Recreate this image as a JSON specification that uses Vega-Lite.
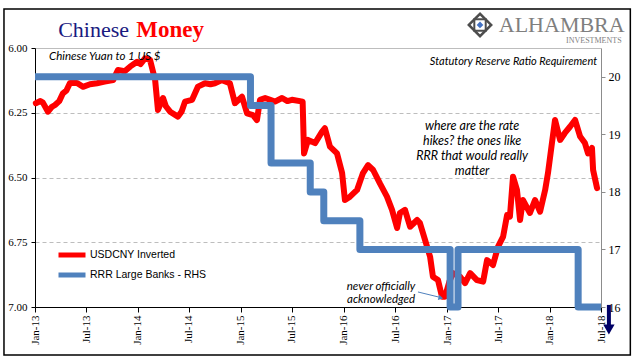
{
  "$schema": "https://vega.github.io/schema/vega-lite/v6.json",
  "width": 566,
  "height": 259,
  "autosize": {"type": "none"},
  "padding": {"left": 35, "top": 48, "right": 40, "bottom": 54},
  "background": "white",
  "config": {
    "view": {"stroke": null},
    "font": "Liberation Serif",
    "axis": {"labelFont": "Liberation Serif", "labelColor": "black", "labelFontSize": 11, "titleFontSize": 0}
  },
  "datasets": {
    "cny": [
      {"date": "2013-01-04", "v": 6.213}, {"date": "2013-01-20", "v": 6.205}, {"date": "2013-01-29", "v": 6.211}, {"date": "2013-02-16", "v": 6.246},
      {"date": "2013-03-01", "v": 6.228}, {"date": "2013-03-13", "v": 6.22}, {"date": "2013-03-28", "v": 6.205}, {"date": "2013-04-10", "v": 6.175},
      {"date": "2013-04-22", "v": 6.165}, {"date": "2013-05-05", "v": 6.135},
      {"date": "2013-05-30", "v": 6.135}, {"date": "2013-06-20", "v": 6.15}, {"date": "2013-07-15", "v": 6.14},
      {"date": "2013-08-09", "v": 6.136}, {"date": "2013-09-05", "v": 6.13}, {"date": "2013-10-05", "v": 6.124},
      {"date": "2013-10-22", "v": 6.085}, {"date": "2013-11-15", "v": 6.09}, {"date": "2013-12-04", "v": 6.072}, {"date": "2013-12-29", "v": 6.053},
      {"date": "2014-01-10", "v": 6.062}, {"date": "2014-01-26", "v": 6.04}, {"date": "2014-02-13", "v": 6.046}, {"date": "2014-03-03", "v": 6.124},
      {"date": "2014-03-13", "v": 6.239}, {"date": "2014-03-31", "v": 6.193}, {"date": "2014-04-10", "v": 6.225}, {"date": "2014-04-25", "v": 6.246},
      {"date": "2014-05-23", "v": 6.265}, {"date": "2014-06-05", "v": 6.245}, {"date": "2014-06-17", "v": 6.207}, {"date": "2014-07-12", "v": 6.2},
      {"date": "2014-08-02", "v": 6.149}, {"date": "2014-08-27", "v": 6.136}, {"date": "2014-09-15", "v": 6.14}, {"date": "2014-10-01", "v": 6.136},
      {"date": "2014-10-26", "v": 6.124}, {"date": "2014-11-23", "v": 6.136}, {"date": "2014-12-11", "v": 6.213},
      {"date": "2015-01-05", "v": 6.188}, {"date": "2015-01-23", "v": 6.252}, {"date": "2015-02-13", "v": 6.259},
      {"date": "2015-02-27", "v": 6.278}, {"date": "2015-03-10", "v": 6.2}, {"date": "2015-03-28", "v": 6.193},
      {"date": "2015-04-15", "v": 6.2}, {"date": "2015-05-02", "v": 6.207}, {"date": "2015-05-27", "v": 6.193}, {"date": "2015-06-15", "v": 6.205}, {"date": "2015-07-01", "v": 6.2},
      {"date": "2015-08-08", "v": 6.207}, {"date": "2015-08-13", "v": 6.407}, {"date": "2015-08-27", "v": 6.355},
      {"date": "2015-09-21", "v": 6.367}, {"date": "2015-10-16", "v": 6.323}, {"date": "2015-10-26", "v": 6.31},
      {"date": "2015-11-13", "v": 6.381}, {"date": "2015-12-08", "v": 6.407}, {"date": "2015-12-26", "v": 6.483},
      {"date": "2016-01-05", "v": 6.587}, {"date": "2016-01-23", "v": 6.574}, {"date": "2016-02-17", "v": 6.548},
      {"date": "2016-03-09", "v": 6.483}, {"date": "2016-03-27", "v": 6.452}, {"date": "2016-04-14", "v": 6.471},
      {"date": "2016-05-08", "v": 6.523}, {"date": "2016-06-02", "v": 6.574}, {"date": "2016-06-20", "v": 6.625},
      {"date": "2016-07-08", "v": 6.695}, {"date": "2016-07-18", "v": 6.637}, {"date": "2016-08-05", "v": 6.625},
      {"date": "2016-08-23", "v": 6.69}, {"date": "2016-09-17", "v": 6.664}, {"date": "2016-09-27", "v": 6.676},
      {"date": "2016-10-15", "v": 6.741}, {"date": "2016-11-02", "v": 6.806}, {"date": "2016-11-12", "v": 6.883},
      {"date": "2016-11-30", "v": 6.896}, {"date": "2016-12-14", "v": 6.96}, {"date": "2016-12-25", "v": 6.96},
      {"date": "2017-01-10", "v": 6.9}, {"date": "2017-01-22", "v": 6.869}, {"date": "2017-02-16", "v": 6.883},
      {"date": "2017-03-06", "v": 6.908}, {"date": "2017-03-24", "v": 6.869}, {"date": "2017-04-17", "v": 6.896},
      {"date": "2017-05-09", "v": 6.902}, {"date": "2017-05-23", "v": 6.819}, {"date": "2017-06-13", "v": 6.838},
      {"date": "2017-07-01", "v": 6.767}, {"date": "2017-07-19", "v": 6.728}, {"date": "2017-08-02", "v": 6.645},
      {"date": "2017-08-12", "v": 6.651}, {"date": "2017-08-23", "v": 6.497}, {"date": "2017-09-06", "v": 6.548},
      {"date": "2017-09-17", "v": 6.664}, {"date": "2017-09-27", "v": 6.587}, {"date": "2017-10-22", "v": 6.637},
      {"date": "2017-11-09", "v": 6.587}, {"date": "2017-11-27", "v": 6.632}, {"date": "2017-12-15", "v": 6.548},
      {"date": "2017-12-25", "v": 6.483}, {"date": "2018-01-08", "v": 6.367}, {"date": "2018-01-19", "v": 6.278},
      {"date": "2018-02-06", "v": 6.355}, {"date": "2018-02-23", "v": 6.328}, {"date": "2018-03-13", "v": 6.304},
      {"date": "2018-03-31", "v": 6.278}, {"date": "2018-04-18", "v": 6.342}, {"date": "2018-05-05", "v": 6.367},
      {"date": "2018-05-16", "v": 6.407}, {"date": "2018-05-30", "v": 6.386}, {"date": "2018-06-03", "v": 6.471},
      {"date": "2018-06-17", "v": 6.541}
    ],
    "rrr": [
      {"date": "2013-01-01", "rrr": 20}, {"date": "2015-02-04", "rrr": 19.5}, {"date": "2015-04-18", "rrr": 18.5},
      {"date": "2015-09-04", "rrr": 18}, {"date": "2015-10-22", "rrr": 17.5}, {"date": "2016-02-27", "rrr": 17},
      {"date": "2017-01-12", "rrr": 16}, {"date": "2017-02-09", "rrr": 17}, {"date": "2018-04-11", "rrr": 16},
      {"date": "2018-07-01", "rrr": 16}
    ],
    "title1": [{"date": "2013-03-24", "v": 5.9575, "label": "Chinese"}],
    "title2": [{"date": "2013-12-26", "v": 5.9575, "label": "Money"}],
    "logo1": [{"date": "2018-09-23", "v": 5.938, "label": "ALHAMBRA"}],
    "logo2": [{"date": "2018-09-12", "v": 5.981, "label": "INVESTMENTS"}],
    "logomark": [{"date": "2017-04-28", "v": 5.911}],
    "yuan": [{"date": "2013-02-20", "v": 6.035, "label": "Chinese Yuan to 1 US $"}],
    "srr": [{"date": "2018-06-17", "v": 6.054, "label": "Statutory Reserve Ratio Requirement"}],
    "hikes": [{"date": "2017-03-31", "v": 6.301, "label": ["where are the rate", "hikes? the ones like", "RRR that would really", "matter"]}],
    "never": [{"date": "2016-05-12", "v": 6.923, "label": ["never officially", "acknowledged"]}],
    "arrow1": [{"date": "2016-09-20", "date2": "2016-12-08", "v": 6.942, "v2": 6.963}],
    "arrow1head": [{"date": "2016-12-10", "v": 6.965}],
    "navyshaft": [{"date": "2018-07-29", "v": 6.992, "v2": 7.07}],
    "navyhead": [{"date": "2018-07-29", "v": 7.087}],
    "frame": [{"date": "2012-09-13", "date2": "2018-10-13", "v": 5.849, "v2": 7.185}]
  },
  "encoding": {
    "x": {
      "field": "date",
      "type": "temporal",
      "scale": {"type": "utc", "domain": [{"year": 2013, "month": 1, "date": 1, "utc": true}, {"year": 2018, "month": 7, "date": 1, "utc": true}]},
      "axis": {
        "title": null,
        "format": "%b-%y",
        "labelAngle": -90,
        "labelFontSize": 11,
        "labelPadding": 3,
        "tickSize": 5,
        "tickColor": "black",
        "domainColor": "black",
        "grid": false,
        "values": [
          {"year": 2013, "month": 1, "date": 1, "utc": true}, {"year": 2013, "month": 7, "date": 1, "utc": true},
          {"year": 2014, "month": 1, "date": 1, "utc": true}, {"year": 2014, "month": 7, "date": 1, "utc": true},
          {"year": 2015, "month": 1, "date": 1, "utc": true}, {"year": 2015, "month": 7, "date": 1, "utc": true},
          {"year": 2016, "month": 1, "date": 1, "utc": true}, {"year": 2016, "month": 7, "date": 1, "utc": true},
          {"year": 2017, "month": 1, "date": 1, "utc": true}, {"year": 2017, "month": 7, "date": 1, "utc": true},
          {"year": 2018, "month": 1, "date": 1, "utc": true}, {"year": 2018, "month": 7, "date": 1, "utc": true}
        ]
      }
    }
  },
  "layer": [
    {
      "encoding": {
        "y": {
          "field": "v",
          "type": "quantitative",
          "scale": {"domain": [6, 7], "reverse": true, "zero": false, "nice": false},
          "axis": {
            "title": null,
            "values": [6, 6.25, 6.5, 6.75, 7],
            "format": ".2f",
            "labelFontSize": 11,
            "labelPadding": 4,
            "tickSize": 4,
            "tickColor": "black",
            "domainColor": "black",
            "grid": true,
            "gridColor": "#bdbdbd",
            "gridWidth": 1,
            "gridDash": {"condition": {"test": "datum.value === 6", "value": []}, "value": [4, 3]}
          }
        }
      },
      "layer": [
        {
          "data": {"name": "cny"},
          "mark": {"type": "line", "strokeWidth": 6, "strokeJoin": "round", "strokeCap": "round"},
          "encoding": {
            "color": {
              "datum": "USDCNY Inverted",
              "scale": {"domain": ["USDCNY Inverted", "RRR Large Banks - RHS"], "range": ["#ff0000", "#4f81bd"]},
              "legend": {
                "title": null,
                "orient": "none",
                "legendX": 21,
                "legendY": 199,
                "symbolType": "stroke",
                "symbolSize": 729,
                "symbolStrokeWidth": 5,
                "labelFont": "Liberation Sans",
                "labelFontSize": 10.5,
                "labelColor": "black",
                "labelOffset": 2,
                "clipHeight": 16,
                "rowPadding": 4,
                "padding": 0
              }
            }
          }
        },
        {
          "data": {"name": "title1"},
          "mark": {"type": "text", "align": "left", "baseline": "alphabetic", "font": "Liberation Serif", "fontSize": 22, "color": "#1a1a80"},
          "encoding": {"text": {"field": "label"}}
        },
        {
          "data": {"name": "title2"},
          "mark": {"type": "text", "align": "left", "baseline": "alphabetic", "font": "Liberation Serif", "fontSize": 23, "fontWeight": "bold", "color": "#ff0000"},
          "encoding": {"text": {"field": "label"}}
        },
        {
          "data": {"name": "logo1"},
          "mark": {"type": "text", "align": "right", "baseline": "alphabetic", "font": "Liberation Serif", "fontSize": 22, "color": "#7f7f7f"},
          "encoding": {"text": {"field": "label"}}
        },
        {
          "data": {"name": "logo2"},
          "mark": {"type": "text", "align": "right", "baseline": "alphabetic", "font": "Liberation Serif", "fontSize": 8, "color": "#7f7f7f"},
          "encoding": {"text": {"field": "label"}}
        },
        {
          "data": {"name": "logomark"},
          "mark": {"type": "point", "shape": "diamond", "size": 500, "filled": false, "stroke": "#4d4d4d", "strokeWidth": 2.5, "opacity": 1}
        },
        {
          "data": {"name": "logomark"},
          "mark": {"type": "point", "shape": "square", "size": 130, "filled": false, "stroke": "#4d4d4d", "strokeWidth": 2, "opacity": 1}
        },
        {
          "data": {"name": "logomark"},
          "mark": {"type": "point", "shape": "diamond", "size": 45, "filled": true, "color": "#4472c4", "opacity": 1}
        },
        {
          "data": {"name": "yuan"},
          "mark": {"type": "text", "align": "left", "baseline": "middle", "font": "Lato", "fontStyle": "italic", "fontSize": 11.5, "color": "black"},
          "encoding": {"text": {"field": "label"}}
        },
        {
          "data": {"name": "srr"},
          "mark": {"type": "text", "align": "right", "baseline": "middle", "font": "Lato", "fontStyle": "italic", "fontSize": 11, "color": "black"},
          "encoding": {"text": {"field": "label"}}
        },
        {
          "data": {"name": "hikes"},
          "mark": {"type": "text", "align": "center", "baseline": "middle", "font": "Lato", "fontStyle": "italic", "fontSize": 12.5, "lineHeight": 15, "color": "black"},
          "encoding": {"text": {"field": "label"}}
        },
        {
          "data": {"name": "never"},
          "mark": {"type": "text", "align": "center", "baseline": "middle", "font": "Lato", "fontStyle": "italic", "fontSize": 11.5, "lineHeight": 13, "color": "black"},
          "encoding": {"text": {"field": "label"}}
        },
        {
          "data": {"name": "arrow1"},
          "mark": {"type": "rule", "color": "#4f81bd", "strokeWidth": 1},
          "encoding": {"x2": {"field": "date2"}, "y2": {"field": "v2"}}
        },
        {
          "data": {"name": "arrow1head"},
          "mark": {"type": "point", "shape": "triangle-right", "size": 30, "filled": true, "color": "#4f81bd", "angle": 15, "opacity": 1}
        },
        {
          "data": {"name": "navyshaft"},
          "mark": {"type": "rule", "color": "#000066", "strokeWidth": 4},
          "encoding": {"y2": {"field": "v2"}}
        },
        {
          "data": {"name": "navyhead"},
          "mark": {"type": "point", "shape": "triangle-down", "size": 130, "filled": true, "color": "#000066", "opacity": 1}
        },
        {
          "data": {"name": "frame"},
          "mark": {"type": "rect", "fill": null, "stroke": "black", "strokeWidth": 1.5},
          "encoding": {"x2": {"field": "date2"}, "y2": {"field": "v2"}}
        }
      ]
    },
    {
      "data": {"name": "rrr"},
      "mark": {"type": "line", "interpolate": "step-after", "strokeWidth": 7, "strokeJoin": "round"},
      "encoding": {
        "y": {
          "field": "rrr",
          "type": "quantitative",
          "scale": {"domain": [16, 20.5], "zero": false, "nice": false},
          "axis": {
            "title": null,
            "orient": "right",
            "values": [16, 17, 18, 19, 20],
            "labelFontSize": 12,
            "labelPadding": 3,
            "tickSize": 4,
            "tickColor": "#8c8c8c",
            "domainColor": "#8c8c8c",
            "grid": false
          }
        },
        "color": {
          "datum": "RRR Large Banks - RHS",
          "scale": {"domain": ["USDCNY Inverted", "RRR Large Banks - RHS"], "range": ["#ff0000", "#4f81bd"]}
        }
      }
    }
  ],
  "resolve": {"scale": {"y": "independent", "color": "shared"}}
}
